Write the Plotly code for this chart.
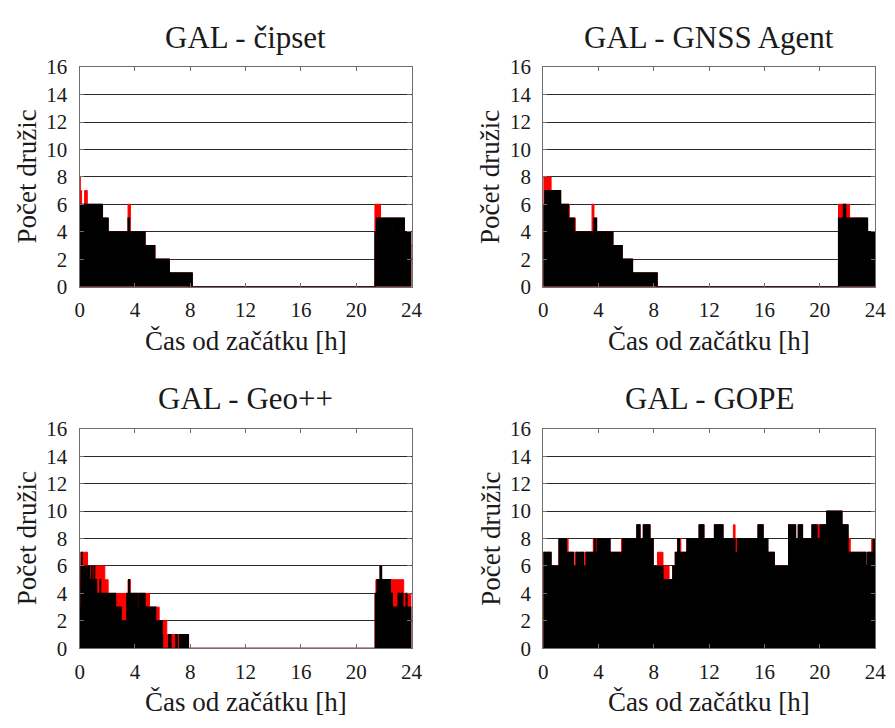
import plotly.graph_objects as go

# ---------------- data (hours, number of satellites) ----------------
titles = ["GAL - čipset", "GAL - GNSS Agent", "GAL - Geo++", "GAL - GOPE"]
x_ticks = [0, 4, 8, 12, 16, 20, 24]
y_ticks = [0, 2, 4, 6, 8, 10, 12, 14, 16]

# GAL - čipset
cip_t_red = [0, 0.05, 0.14, 0.36, 0.55, 1.65, 2.06, 3.5, 3.67, 4.73, 5.44, 6.48, 7.9, 7.98, 8.14, 21.35, 21.75, 23.48, 23.95, 24]
cip_n_red = [8, 7, 6, 7, 6, 5, 4, 6, 4, 3, 2, 1, 0, 1, 0, 6, 5, 4, 3, 3]
cip_t_blk = [0, 0.05, 1.65, 2.06, 3.24, 3.28, 3.5, 3.6, 4.73, 5.44, 6.48, 7.9, 7.98, 8.14, 21.35, 21.45, 21.5, 21.55, 21.87, 21.92, 22.56, 22.6, 23.48, 23.95, 24]
cip_n_blk = [5, 6, 5, 4, 3, 4, 5, 4, 3, 2, 1, 0, 1, 0, 4, 5, 4, 5, 4, 5, 4, 5, 4, 3, 3]

# GAL - GNSS Agent
agt_t_red = [0, 0.57, 1.26, 1.89, 2.32, 3.53, 3.67, 3.86, 5.04, 5.71, 6.46, 8.24, 21.35, 22.15, 23.45, 24]
agt_n_red = [8, 7, 6, 5, 4, 6, 5, 4, 3, 2, 1, 0, 6, 5, 4, 4]
agt_t_blk = [0, 0.12, 0.17, 0.26, 1.26, 1.82, 2.25, 3.67, 3.86, 5.04, 5.71, 6.46, 8.24, 21.35, 21.7, 21.87, 23.45, 24]
agt_n_blk = [6, 7, 6, 7, 6, 5, 4, 5, 4, 3, 2, 1, 0, 5, 6, 5, 4, 4]

# GAL - Geo++
geo_t_red = [0, 0.08, 0.57, 1.82, 2.06, 3.5, 3.67, 5.05, 5.75, 6.3, 7.88, 21.35, 21.42, 21.72, 21.83, 23.43, 24]
geo_n_red = [5, 7, 6, 5, 4, 5, 4, 3, 2, 1, 0, 4, 5, 6, 5, 4, 4]
geo_t_blk = [0, 0.09, 0.13, 0.18, 0.71, 0.85, 0.9, 1.04, 1.09, 1.23, 1.47, 1.52, 1.70, 1.74, 2.41, 2.5, 2.6,
             3.01, 3.41, 3.55, 3.6, 3.9, 3.95, 4.2, 4.3, 4.73, 4.85, 4.9, 5.14, 5.2, 5.5, 5.97, 6.0, 6.44,
             6.6, 6.95, 7.05, 7.22, 7.86, 21.38, 21.5, 21.72, 21.83, 22.0, 22.07, 22.19, 22.25, 22.47,
             22.61, 23.02, 23.37, 23.6, 23.67, 24]
geo_n_blk = [3, 6, 7, 6, 5, 6, 5, 6, 5, 4, 5, 4, 2, 4, 2, 4, 3,
             2, 4, 5, 4, 3, 4, 3, 4, 3, 2, 3, 2, 3, 2, 1, 0, 1,
             0, 1, 0, 1, 0, 4, 5, 6, 5, 3, 5, 4, 5, 4,
             3, 4, 3, 4, 3, 3]

# GAL - GOPE
gope_t_red = [0, 0.57, 1.14, 1.8, 2.2, 2.3, 2.58, 2.67, 2.91, 3.0, 3.62, 4.83, 5.66, 6.77, 7.0, 7.24, 7.72,
              7.95, 8.26, 8.66, 9.1, 9.37, 9.55, 9.73, 9.95, 10.39, 11.27, 11.62, 12.38, 13.0, 13.75, 13.87,
              15.53, 15.9, 16.24, 16.71, 17.74, 18.25, 18.44, 18.75, 19.43, 20.5, 21.6, 22.04, 22.2,
              23.34, 23.46, 23.75, 24]
gope_n_red = [7, 6, 8, 7, 6, 7, 6, 7, 6, 7, 8, 7, 8, 9, 8, 9, 8,
              6, 7, 6, 5, 6, 7, 8, 7, 8, 9, 8, 9, 8, 9, 8,
              9, 8, 7, 6, 9, 8, 9, 8, 9, 10, 9, 8, 7,
              6, 7, 8, 8]
gope_t_blk = [0, 0.57, 1.14, 1.68, 2.2, 2.39, 2.58, 2.67, 2.91, 3.1, 3.69, 3.76, 3.9, 4.83, 5.75, 6.77,
              7.0, 7.24, 7.72, 7.95, 8.66, 9.37, 9.55, 9.73, 9.85, 10.39, 11.27, 11.62, 12.38, 13.0,
              13.87, 14.05, 15.53, 15.9, 16.24, 16.71, 17.74, 18.25, 18.44, 18.75, 19.43, 19.8, 20.02,
              20.5, 21.6, 22.04, 23.34, 23.46, 23.85, 24]
gope_n_blk = [7, 6, 8, 7, 6, 7, 6, 7, 6, 7, 8, 7, 8, 7, 8, 9,
              8, 9, 8, 6, 5, 6, 7, 8, 7, 8, 9, 8, 9, 8,
              7, 8, 9, 8, 7, 6, 9, 8, 9, 8, 9, 8, 9,
              10, 9, 7, 6, 7, 8, 8]

panels = [
    (cip_t_red, cip_n_red, cip_t_blk, cip_n_blk),
    (agt_t_red, agt_n_red, agt_t_blk, agt_n_blk),
    (geo_t_red, geo_n_red, geo_t_blk, geo_n_blk),
    (gope_t_red, gope_n_red, gope_t_blk, gope_n_blk),
]

# ---------------- layout geometry ----------------
W, H = 895, 728
FONT = "Liberation Serif"
TXT = "#1a1a1a"
# plot rectangles in pixels: (left, right, top, bottom)
rects = [(76, 414, 57, 284), (548, 886, 57, 284), (76, 414, 431, 658), (548, 886, 431, 658)]

fig = go.Figure()
annotations = []
layout_axes = {}
for i, ((tr, nr, tb, nb), (l, r, t, b)) in enumerate(zip(panels, rects)):
    k = "" if i == 0 else str(i + 1)
    xa, ya = "x" + k, "y" + k
    fig.add_trace(go.Scatter(x=tr, y=nr, xaxis=xa, yaxis=ya, mode="lines",
                             line=dict(shape="hv", color="#ff0000", width=1),
                             fill="tozeroy", fillcolor="#ff0000", showlegend=False,
                             hoverinfo="skip"))
    fig.add_trace(go.Scatter(x=tb, y=nb, xaxis=xa, yaxis=ya, mode="lines",
                             line=dict(shape="hv", color="#000000", width=1.2),
                             fill="tozeroy", fillcolor="#000000", showlegend=False,
                             hoverinfo="skip"))
    axcommon = dict(showline=True, mirror="ticks", linecolor="#6e6e6e", linewidth=1.2,
                    ticks="inside", ticklen=4, tickcolor="#6e6e6e", zeroline=False,
                    tickfont=dict(family=FONT, size=21, color=TXT))
    layout_axes["xaxis" + k] = dict(domain=[l / W, r / W], range=[0, 24], anchor=ya,
                                    tickvals=x_ticks, showgrid=False, ticklabelstandoff=4,
                                    **axcommon)
    layout_axes["yaxis" + k] = dict(domain=[1 - b / H, 1 - t / H], range=[0, 16], anchor=xa,
                                    tickvals=y_ticks, showgrid=True, gridcolor="#2a2a2a",
                                    gridwidth=1, ticklabelstandoff=7, **axcommon)
    cx = (l + r) / 2
    annotations.append(dict(text=titles[i], x=cx / W, y=1 - (t - 31) / H, xref="paper", yref="paper",
                            showarrow=False, xanchor="center", yanchor="middle",
                            font=dict(family=FONT, size=31, color=TXT)))
    annotations.append(dict(text="Čas od začátku [h]", x=cx / W, y=1 - (b + 56) / H,
                            xref="paper", yref="paper", showarrow=False,
                            xanchor="center", yanchor="middle",
                            font=dict(family=FONT, size=27, color=TXT)))
    annotations.append(dict(text="Počet družic", x=(l - 54) / W, y=1 - ((t + b) / 2) / H,
                            xref="paper", yref="paper", showarrow=False, textangle=-90,
                            xanchor="center", yanchor="middle",
                            font=dict(family=FONT, size=27, color=TXT)))

fig.update_layout(width=W, height=H, margin=dict(l=0, r=0, t=0, b=0),
                  paper_bgcolor="white", plot_bgcolor="white",
                  annotations=annotations, **layout_axes)

fig.write_html("out.html", post_script="document.body.style.margin='0px';")
